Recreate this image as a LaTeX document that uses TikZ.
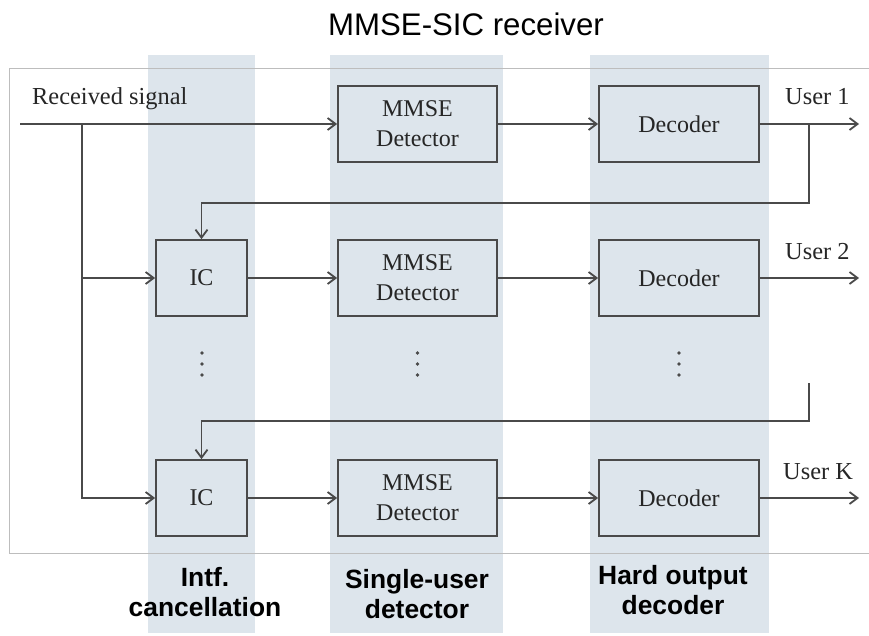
\documentclass[tikz,border=0pt]{standalone}
\usepackage{fontspec}
\setmainfont{Liberation Serif}
\newfontfamily\arialf{Liberation Sans}
\usetikzlibrary{arrows.meta}
\definecolor{colbg}{HTML}{DDE5EC}
\definecolor{linec}{HTML}{4A4A4A}
\definecolor{framec}{HTML}{BDBDBD}
\definecolor{txtc}{HTML}{262626}
\begin{document}
\begin{tikzpicture}[x=1pt,y=-1pt,
  blk/.style={draw=linec, line width=1.8pt, fill=colbg, minimum height=76pt, inner sep=0pt,
    font=\fontsize{24}{30}\selectfont, text=txtc, align=center},
  icbox/.style={blk, minimum width=91pt},
  mmbox/.style={blk, minimum width=159pt},
  decbox/.style={blk, minimum width=160pt},
  conn/.style={draw=linec, line width=1.8pt},
  arr/.style={conn, -{Straight Barb[length=8pt,width=12pt]}},
  lbl/.style={font=\fontsize{24.4}{28}\selectfont, text=txtc, inner sep=0pt},
  capt/.style={font=\arialf\bfseries\fontsize{26.4}{30}\selectfont, align=center, inner sep=0pt},
  band/.style={fill=colbg, draw=none},
  dotc/.style={fill=linec, draw=none}
]
\useasboundingbox (0,0) rectangle (869,636);
\fill[white] (0,0) rectangle (869,636);
% shaded columns
\fill[band] (148,55) rectangle (255,633);
\fill[band] (330,55) rectangle (503,633);
\fill[band] (590,55) rectangle (769,633);
% frame
\draw[framec, line width=0.8pt] (869,68) -- (9,68) -- (9,553) -- (869,553);
% title
\node (title) at (466,24) {\arialf\fontsize{31.2}{34}\selectfont MMSE-SIC receiver};
% blocks
\node[mmbox] (mm1) at (417.5,124) {MMSE\\Detector};
\node[decbox] (dec1) at (679,124) {Decoder};
\node[icbox] (ic2) at (201.5,278) {IC};
\node[mmbox] (mm2) at (417.5,278) {MMSE\\Detector};
\node[decbox] (dec2) at (679,278) {Decoder};
\node[icbox] (ic3) at (201.5,498) {IC};
\node[mmbox] (mm3) at (417.5,498) {MMSE\\Detector};
\node[decbox] (dec3) at (679,498) {Decoder};
% coordinates
\coordinate (in) at (20,124);
\coordinate (br) at (82,124);
\coordinate (o1) at (859,124);
\coordinate (o2) at (859,278);
\coordinate (o3) at (859,498);
\coordinate (fb1) at (809,124);
\coordinate (k1) at (809,203);
\coordinate (fb2) at (809,383);
\coordinate (k2) at (809,421);
% connectors
\draw[arr] (in) -- (mm1);
\draw[arr] (br) |- (ic3);
\draw[arr] (br |- ic2) -- (ic2);
\draw[arr] (mm1) -- (dec1);
\draw[arr] (dec1) -- (o1);
\draw[arr] (ic2) -- (mm2);
\draw[arr] (mm2) -- (dec2);
\draw[arr] (dec2) -- (o2);
\draw[arr] (ic3) -- (mm3);
\draw[arr] (mm3) -- (dec3);
\draw[arr] (dec3) -- (o3);
\draw[arr] (fb1) -- (k1) -| (ic2.north);
\draw[arr] (fb2) -- (k2) -| (ic3.north);
% dots
\foreach \xx in {202,417.5,679}{
  \foreach \yy in {353,364,375}{
    \fill[dotc] (\xx,\yy) circle (1.9pt);
  }
}
% labels
\node[lbl, anchor=base west] (rs) at (32,105) {Received signal};
\node[lbl, anchor=base west] (u1) at (785,105) {User 1};
\node[lbl, anchor=base west] (u2) at (785,259) {User 2};
\node[lbl, anchor=base west] (uk) at (783,479) {User K};
% captions
\node[capt] (c1) at (205,592) {Intf.\\cancellation};
\node[capt] (c2) at (417,594) {Single-user\\detector};
\node[capt] (c3) at (673,590) {Hard output\\decoder};
\end{tikzpicture}
\end{document}
